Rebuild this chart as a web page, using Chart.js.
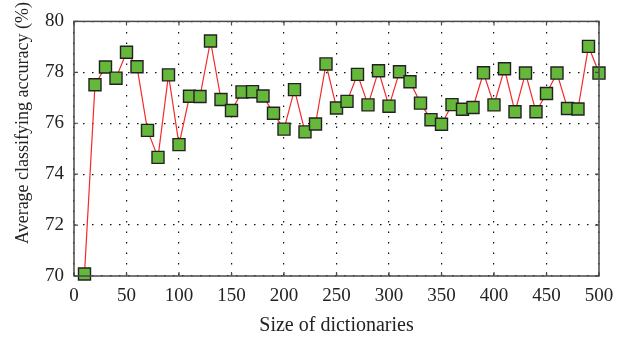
<!DOCTYPE html>
<html>
<head>
<meta charset="utf-8">
<script src="https://cdn.jsdelivr.net/npm/chart.js@4"></script>
<style>
  body { margin: 0; background: #fff; }
  #wrap { width: 632px; height: 342px; }
</style>
</head>
<body>
<div id="wrap"><canvas id="chart" width="632" height="342"></canvas></div>
<script>
// dictionary sizes and accuracies
let sizes = [10, 20, 30, 40, 50, 60, 70, 80, 90, 100,
             110, 120, 130, 140, 150, 160, 170, 180, 190, 200,
             210, 220, 230, 240, 250, 260, 270, 280, 290, 300,
             310, 320, 330, 340, 350, 360, 370, 380, 390, 400,
             410, 420, 430, 440, 450, 460, 470, 480, 490, 500];
let accuracy = [70.08, 77.51, 78.21, 77.77, 78.79, 78.22, 75.72, 74.66, 77.90, 75.16,
                77.06, 77.05, 79.23, 76.93, 76.50, 77.23, 77.24, 77.07, 76.39, 75.77,
                77.32, 75.66, 75.97, 78.33, 76.60, 76.86, 77.92, 76.72, 78.06, 76.67,
                78.02, 77.63, 76.79, 76.14, 75.96, 76.73, 76.55, 76.62, 77.98, 76.72,
                78.14, 76.45, 77.97, 76.45, 77.17, 77.97, 76.58, 76.56, 79.02, 77.97];
let xTicks = [0, 50, 100, 150, 200, 250, 300, 350, 400, 450, 500];
let yTicks = [70, 72, 74, 76, 78, 80];
let yTitle = 'Average classifying accuracy (%)';

let points = sizes.map((s, i) => ({ x: s, y: accuracy[i] }));
let serif = "'Liberation Serif', 'DejaVu Serif', serif";

// box round the plot with small inward ticks, plus the y title
let frame = {
    id: 'frame',
    afterDatasetsDraw(chart) {
        let ctx = chart.ctx;
        let a = chart.chartArea;
        let xs = chart.scales.x, ys = chart.scales.y;
        ctx.save();
        ctx.strokeStyle = '#4a4a4a';
        ctx.lineWidth = 1.5;
        ctx.strokeRect(a.left, a.top, a.right - a.left, a.bottom - a.top);
        ctx.lineWidth = 1.2;
        ctx.beginPath();
        xTicks.forEach(t => {
            let px = xs.getPixelForValue(t);
            ctx.moveTo(px, a.top); ctx.lineTo(px, a.top + 4);
            ctx.moveTo(px, a.bottom); ctx.lineTo(px, a.bottom - 4);
        });
        yTicks.forEach(t => {
            let py = ys.getPixelForValue(t);
            ctx.moveTo(a.left, py); ctx.lineTo(a.left + 4, py);
            ctx.moveTo(a.right, py); ctx.lineTo(a.right - 4, py);
        });
        ctx.stroke();

        // rotated y title, sits a bit above the plot middle like the original
        ctx.translate(23, 123);
        ctx.rotate(-Math.PI / 2);
        ctx.fillStyle = '#222';
        ctx.font = '18px ' + serif;
        ctx.textAlign = 'center';
        ctx.textBaseline = 'middle';
        ctx.fillText(yTitle, 0, 0);
        ctx.restore();
    }
};

new Chart(document.getElementById('chart'), {
    type: 'line',
    data: {
        datasets: [{
            data: points,
            borderColor: '#f42a2a',
            borderWidth: 1.2,
            pointStyle: 'rect',
            pointRadius: 8.5,
            pointBorderWidth: 1.4,
            pointBackgroundColor: '#66b83a',
            pointBorderColor: '#222',
            tension: 0,
            clip: false
        }]
    },
    options: {
        responsive: false,
        animation: false,
        layout: { padding: { top: 12, right: 33, left: 0, bottom: 0 } },
        plugins: { legend: { display: false }, tooltip: { enabled: false } },
        scales: {
            x: {
                type: 'linear',
                min: 0, max: 500,
                afterBuildTicks: s => { s.ticks = xTicks.map(v => ({ value: v })); },
                afterFit: s => { s.height = 66; },
                grid: { color: '#111', lineWidth: 1.2, drawTicks: false },
                border: { display: false, dash: [1.5, 9] },
                ticks: { color: '#222', padding: 9, font: { family: serif, size: 19 } },
                title: {
                    display: true, text: 'Size of dictionaries', color: '#222',
                    padding: { top: 2 }, font: { family: serif, size: 20 }
                }
            },
            y: {
                min: 70, max: 80,
                afterBuildTicks: s => { s.ticks = yTicks.map(v => ({ value: v })); },
                afterFit: s => { s.width = 74; },
                grid: { color: '#111', lineWidth: 1.2, drawTicks: false },
                border: { display: false, dash: [1.5, 7.5] },
                ticks: { color: '#222', padding: 10, font: { family: serif, size: 19 } }
            }
        }
    },
    plugins: [frame]
});
</script>
</body>
</html>
